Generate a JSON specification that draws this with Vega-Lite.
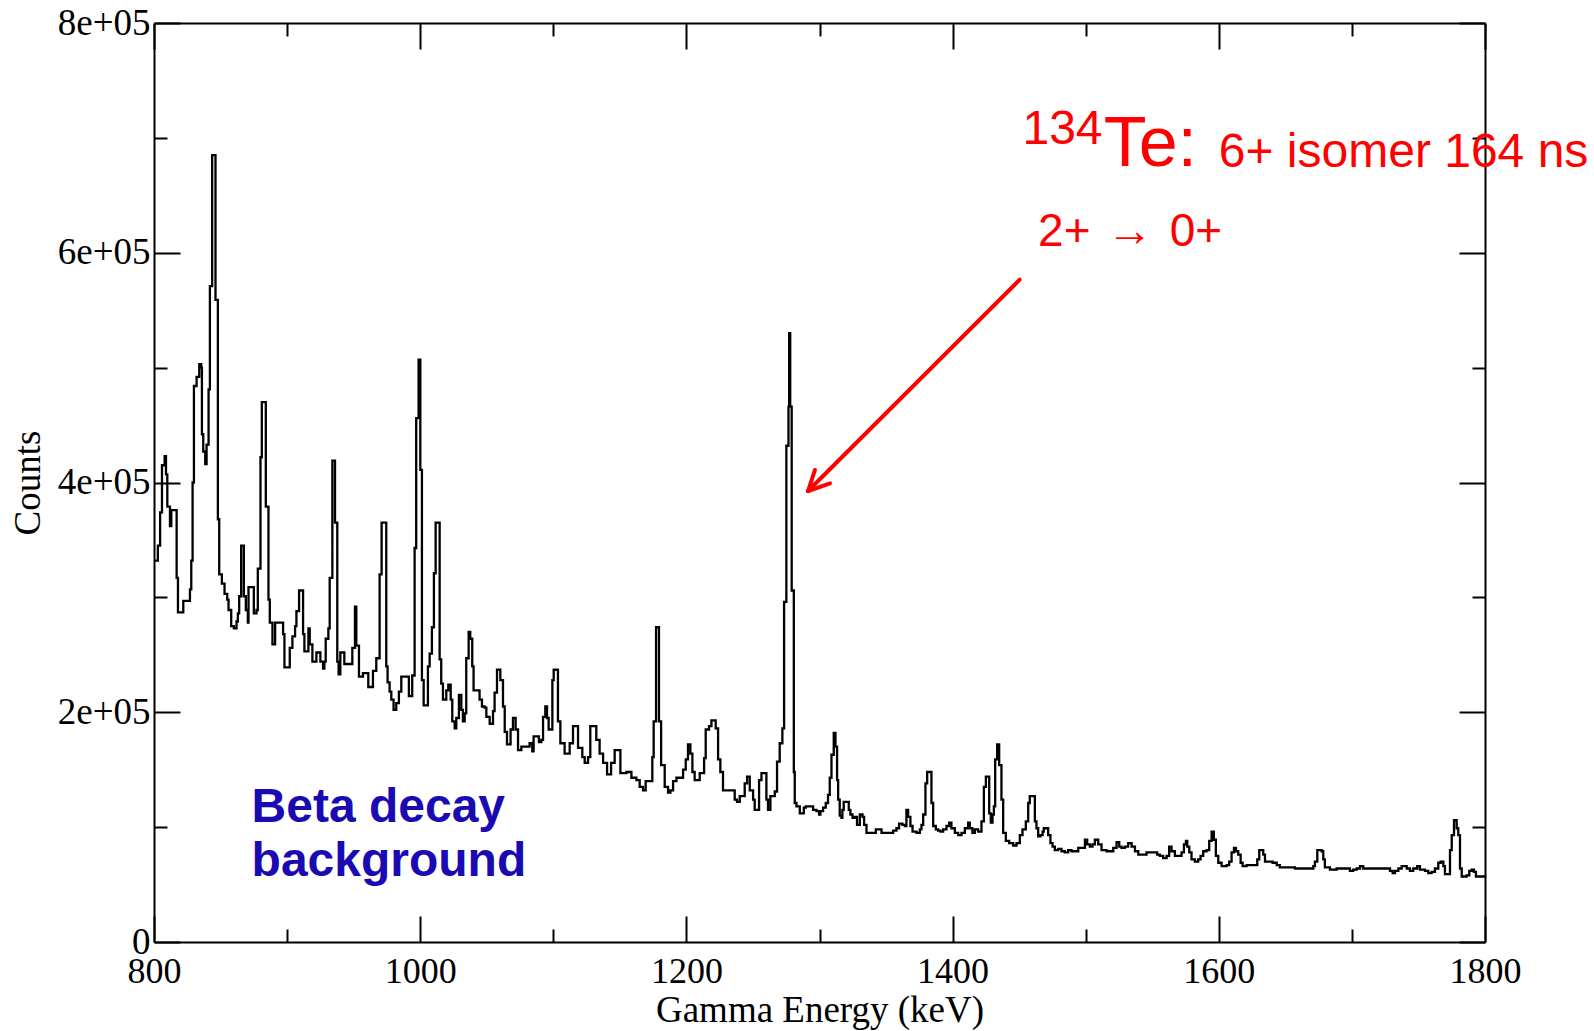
{
  "$schema": "https://vega.github.io/schema/vega-lite/v6.json",
  "width": 1331,
  "height": 919,
  "autosize": {"type": "none"},
  "padding": {"left": 154, "top": 23, "right": 109, "bottom": 89},
  "background": "white",
  "config": {"view": {"stroke": null}},
  "datasets": {
    "spectrum": [
      {"E":800,"C":332000},{"E":802.9,"C":345000},{"E":804.6,"C":374000},{"E":806,"C":415000},{"E":808,"C":423000},{"E":809,"C":407000},{"E":810,"C":379000},{"E":812,"C":362000},{"E":813,"C":376000},{"E":817,"C":317000},{"E":818,"C":287000},{"E":822,"C":297000},{"E":827,"C":307000},{"E":828,"C":332000},{"E":829,"C":400000},{"E":830,"C":484000},{"E":832,"C":492000},{"E":834,"C":503000},{"E":835.5,"C":500000},{"E":836,"C":442000},{"E":837,"C":427000},{"E":838.5,"C":416000},{"E":839.5,"C":433000},{"E":841,"C":481000},{"E":842,"C":571000},{"E":843.7,"C":685000},{"E":846.2,"C":559000},{"E":848,"C":368000},{"E":849,"C":320000},{"E":851,"C":312000},{"E":853,"C":303000},{"E":855,"C":298000},{"E":856,"C":289000},{"E":858,"C":275000},{"E":860,"C":273000},{"E":862,"C":279000},{"E":863,"C":286000},{"E":864,"C":301000},{"E":865.5,"C":345000},{"E":867.5,"C":301000},{"E":869,"C":289000},{"E":870.5,"C":278000},{"E":871,"C":309000},{"E":875,"C":286000},{"E":877,"C":289000},{"E":878,"C":325000},{"E":880,"C":422000},{"E":881,"C":470000},{"E":884,"C":379000},{"E":886,"C":298000},{"E":887,"C":278000},{"E":889,"C":259000},{"E":891,"C":278000},{"E":897,"C":268000},{"E":898,"C":239000},{"E":902,"C":256000},{"E":904,"C":266000},{"E":906,"C":275000},{"E":907,"C":288000},{"E":909,"C":306000},{"E":912,"C":268000},{"E":913,"C":253000},{"E":916,"C":273000},{"E":917,"C":259000},{"E":919,"C":244000},{"E":922,"C":252000},{"E":925,"C":244000},{"E":927,"C":238000},{"E":928,"C":244000},{"E":929,"C":264000},{"E":931,"C":273000},{"E":932,"C":317000},{"E":934,"C":419000},{"E":936,"C":365000},{"E":937.7,"C":244000},{"E":938.7,"C":233000},{"E":940,"C":252000},{"E":943,"C":242000},{"E":949,"C":256000},{"E":951,"C":292000},{"E":952,"C":258000},{"E":954,"C":231000},{"E":957,"C":234000},{"E":961,"C":222000},{"E":964.5,"C":236000},{"E":967,"C":247000},{"E":969.5,"C":320000},{"E":971,"C":365000},{"E":974.5,"C":240000},{"E":975.5,"C":226000},{"E":977,"C":218000},{"E":978.3,"C":211000},{"E":980,"C":202000},{"E":982,"C":208000},{"E":984,"C":218000},{"E":985.8,"C":231000},{"E":991.5,"C":214000},{"E":994,"C":232000},{"E":995.8,"C":343000},{"E":997,"C":456000},{"E":998.8,"C":507000},{"E":1000.1,"C":411000},{"E":1001.3,"C":228000},{"E":1002.6,"C":206000},{"E":1005.8,"C":240000},{"E":1007.1,"C":251000},{"E":1008.8,"C":274000},{"E":1010.3,"C":321000},{"E":1011.6,"C":365000},{"E":1014.6,"C":246000},{"E":1015.8,"C":225000},{"E":1017.1,"C":211000},{"E":1019.6,"C":219000},{"E":1021.1,"C":224000},{"E":1022.9,"C":211000},{"E":1024.1,"C":192000},{"E":1025.9,"C":186000},{"E":1027.1,"C":195000},{"E":1029.1,"C":215000},{"E":1030.9,"C":202000},{"E":1032.1,"C":192000},{"E":1033.4,"C":199000},{"E":1034.6,"C":247000},{"E":1036.4,"C":270000},{"E":1037.6,"C":264000},{"E":1039.1,"C":240000},{"E":1040.1,"C":219000},{"E":1044.6,"C":211000},{"E":1046.4,"C":205000},{"E":1048.4,"C":204000},{"E":1049.7,"C":196000},{"E":1052.2,"C":190000},{"E":1054.7,"C":201000},{"E":1055.9,"C":217000},{"E":1057.7,"C":237000},{"E":1060.2,"C":228000},{"E":1062.2,"C":205000},{"E":1063.5,"C":183000},{"E":1065.2,"C":172000},{"E":1067.9,"C":185000},{"E":1069.7,"C":195000},{"E":1071.7,"C":185000},{"E":1073.5,"C":167000},{"E":1076,"C":170000},{"E":1082.2,"C":173000},{"E":1084.2,"C":166000},{"E":1085.2,"C":179000},{"E":1089.2,"C":174000},{"E":1091,"C":176000},{"E":1092.3,"C":196000},{"E":1094,"C":205000},{"E":1095.3,"C":195000},{"E":1096.5,"C":185000},{"E":1099.3,"C":228000},{"E":1100.3,"C":237000},{"E":1103.5,"C":192000},{"E":1105.3,"C":173000},{"E":1108.5,"C":164000},{"E":1112.3,"C":173000},{"E":1114.8,"C":188000},{"E":1118.6,"C":169000},{"E":1121.8,"C":161000},{"E":1123.6,"C":156000},{"E":1126.1,"C":161000},{"E":1127.8,"C":188000},{"E":1132.3,"C":176000},{"E":1134.8,"C":164000},{"E":1137.4,"C":156000},{"E":1140.4,"C":146000},{"E":1143.4,"C":156000},{"E":1146.1,"C":167000},{"E":1150.4,"C":147000},{"E":1154.9,"C":148000},{"E":1158.7,"C":143000},{"E":1162.4,"C":141000},{"E":1164.9,"C":135000},{"E":1167.4,"C":132000},{"E":1169.4,"C":140000},{"E":1174.4,"C":161000},{"E":1175.4,"C":192000},{"E":1177.2,"C":274000},{"E":1179.4,"C":192000},{"E":1181,"C":154000},{"E":1183.7,"C":135000},{"E":1186.2,"C":130000},{"E":1188,"C":132000},{"E":1190,"C":140000},{"E":1192.5,"C":143000},{"E":1197.5,"C":150000},{"E":1199.5,"C":159000},{"E":1201.2,"C":172000},{"E":1203,"C":164000},{"E":1204.5,"C":148000},{"E":1206.2,"C":141000},{"E":1210,"C":147000},{"E":1213.3,"C":160000},{"E":1214.5,"C":185000},{"E":1217,"C":188000},{"E":1218.8,"C":193000},{"E":1222,"C":186000},{"E":1223.8,"C":159000},{"E":1225.5,"C":148000},{"E":1227.5,"C":132000},{"E":1236.3,"C":124000},{"E":1238,"C":122000},{"E":1240.1,"C":127000},{"E":1243.8,"C":138000},{"E":1245.6,"C":144000},{"E":1247.6,"C":132000},{"E":1250.1,"C":124000},{"E":1251.3,"C":115000},{"E":1254.6,"C":141000},{"E":1256.4,"C":147000},{"E":1260.1,"C":124000},{"E":1261.3,"C":115000},{"E":1263.1,"C":127000},{"E":1266.4,"C":131000},{"E":1268.1,"C":157000},{"E":1270.1,"C":173000},{"E":1272.1,"C":186000},{"E":1273.4,"C":296000},{"E":1275.1,"C":432000},{"E":1276.7,"C":466000},{"E":1277.2,"C":530000},{"E":1278,"C":466000},{"E":1279.1,"C":306000},{"E":1280.7,"C":148000},{"E":1281.4,"C":121000},{"E":1282.7,"C":118000},{"E":1285.2,"C":112000},{"E":1288.2,"C":117000},{"E":1289.7,"C":118000},{"E":1295.2,"C":115000},{"E":1297.7,"C":114000},{"E":1299.7,"C":111000},{"E":1300.7,"C":114000},{"E":1302.7,"C":117000},{"E":1304.7,"C":121000},{"E":1306.4,"C":128000},{"E":1307.7,"C":143000},{"E":1309,"C":163000},{"E":1310.7,"C":182000},{"E":1312,"C":170000},{"E":1313.2,"C":141000},{"E":1314,"C":124000},{"E":1315.2,"C":110000},{"E":1316.5,"C":108000},{"E":1317.2,"C":115000},{"E":1318.2,"C":122000},{"E":1322,"C":115000},{"E":1323.2,"C":111000},{"E":1324.8,"C":108000},{"E":1326.5,"C":109000},{"E":1328.2,"C":102000},{"E":1330.3,"C":111000},{"E":1332.3,"C":109000},{"E":1333.5,"C":102000},{"E":1335.3,"C":95000},{"E":1342.3,"C":98000},{"E":1346.6,"C":95000},{"E":1355.3,"C":97000},{"E":1357.8,"C":99000},{"E":1359.8,"C":103000},{"E":1362.3,"C":102000},{"E":1364.1,"C":101000},{"E":1365.3,"C":115000},{"E":1366.6,"C":109000},{"E":1368.3,"C":101000},{"E":1369.9,"C":96000},{"E":1372.9,"C":95000},{"E":1375.4,"C":98000},{"E":1376.6,"C":102000},{"E":1377.9,"C":111000},{"E":1379.6,"C":138000},{"E":1380.9,"C":148000},{"E":1384.1,"C":121000},{"E":1385.4,"C":101000},{"E":1387.4,"C":98000},{"E":1389.1,"C":97000},{"E":1390.9,"C":96000},{"E":1392.9,"C":98000},{"E":1395.4,"C":101000},{"E":1397.4,"C":104000},{"E":1399.1,"C":99000},{"E":1401.7,"C":95000},{"E":1404.2,"C":93000},{"E":1406.7,"C":95000},{"E":1409.2,"C":99000},{"E":1411.7,"C":104000},{"E":1412.9,"C":99000},{"E":1414.9,"C":95000},{"E":1416.7,"C":98000},{"E":1419.2,"C":96000},{"E":1421.7,"C":105000},{"E":1423.5,"C":135000},{"E":1425,"C":144000},{"E":1427.5,"C":112000},{"E":1428.7,"C":104000},{"E":1430,"C":111000},{"E":1431,"C":118000},{"E":1432,"C":159000},{"E":1433.5,"C":172000},{"E":1435,"C":154000},{"E":1436.7,"C":124000},{"E":1438,"C":95000},{"E":1440,"C":88000},{"E":1442.5,"C":86000},{"E":1445.5,"C":84000},{"E":1448,"C":86000},{"E":1450.5,"C":93000},{"E":1452.5,"C":98000},{"E":1455,"C":105000},{"E":1456.8,"C":121000},{"E":1458,"C":127000},{"E":1461.8,"C":105000},{"E":1463,"C":99000},{"E":1464.3,"C":92000},{"E":1466,"C":93000},{"E":1467.6,"C":96000},{"E":1468.5,"C":99000},{"E":1471.8,"C":93000},{"E":1473.5,"C":86000},{"E":1475.1,"C":83000},{"E":1476.8,"C":80000},{"E":1479.3,"C":81000},{"E":1481.8,"C":79000},{"E":1484.3,"C":78000},{"E":1486.8,"C":80000},{"E":1489.3,"C":79000},{"E":1494.4,"C":82000},{"E":1499.4,"C":89000},{"E":1501.1,"C":85000},{"E":1503.1,"C":83000},{"E":1505.1,"C":85000},{"E":1506.9,"C":89000},{"E":1509.4,"C":85000},{"E":1511.9,"C":80000},{"E":1515.7,"C":79000},{"E":1520.7,"C":82000},{"E":1523.2,"C":87000},{"E":1525.2,"C":83000},{"E":1526.9,"C":82000},{"E":1529.4,"C":83000},{"E":1531.9,"C":86000},{"E":1534.5,"C":83000},{"E":1537,"C":79000},{"E":1539.5,"C":76000},{"E":1545.7,"C":78000},{"E":1553.7,"C":76000},{"E":1555.7,"C":75000},{"E":1558.2,"C":73000},{"E":1560.8,"C":75000},{"E":1562.7,"C":83000},{"E":1564.5,"C":79000},{"E":1567,"C":75000},{"E":1572,"C":78000},{"E":1573.8,"C":85000},{"E":1575.3,"C":88000},{"E":1576.3,"C":83000},{"E":1577.8,"C":78000},{"E":1579.5,"C":72000},{"E":1582,"C":70000},{"E":1584.5,"C":72000},{"E":1586.3,"C":75000},{"E":1588.3,"C":79000},{"E":1590.8,"C":80000},{"E":1592.8,"C":88000},{"E":1594.6,"C":96000},{"E":1596.3,"C":89000},{"E":1597.8,"C":75000},{"E":1599.6,"C":69000},{"E":1602.1,"C":66000},{"E":1605.9,"C":67000},{"E":1607.8,"C":70000},{"E":1609.6,"C":78000},{"E":1611.4,"C":82000},{"E":1612.9,"C":79000},{"E":1614.6,"C":76000},{"E":1616.4,"C":69000},{"E":1617.9,"C":66000},{"E":1620.9,"C":67000},{"E":1628.9,"C":72000},{"E":1630.4,"C":80000},{"E":1633.4,"C":76000},{"E":1634.7,"C":70000},{"E":1640.4,"C":69000},{"E":1643.5,"C":67000},{"E":1645.9,"C":65000},{"E":1657.2,"C":64000},{"E":1671,"C":66000},{"E":1672.2,"C":70000},{"E":1674,"C":80000},{"E":1677.3,"C":79000},{"E":1678.5,"C":72000},{"E":1679.7,"C":65000},{"E":1683.5,"C":63000},{"E":1688.5,"C":64000},{"E":1698.5,"C":62000},{"E":1701,"C":63000},{"E":1703.6,"C":64000},{"E":1706.1,"C":66000},{"E":1708.5,"C":64000},{"E":1728.6,"C":62000},{"E":1730.6,"C":60000},{"E":1732.4,"C":62000},{"E":1734.9,"C":64000},{"E":1737.4,"C":66000},{"E":1741.2,"C":64000},{"E":1743.6,"C":62000},{"E":1746.1,"C":64000},{"E":1749.1,"C":66000},{"E":1751.1,"C":63000},{"E":1754.9,"C":62000},{"E":1757.4,"C":60000},{"E":1759.9,"C":61000},{"E":1762.4,"C":64000},{"E":1764.9,"C":69000},{"E":1766.7,"C":70000},{"E":1768.7,"C":66000},{"E":1769.9,"C":59000},{"E":1772.4,"C":59000},{"E":1773.7,"C":80000},{"E":1775,"C":93000},{"E":1776.7,"C":106000},{"E":1778.7,"C":99000},{"E":1779.9,"C":93000},{"E":1781.2,"C":64000},{"E":1782.5,"C":57000},{"E":1786.2,"C":58000},{"E":1788.2,"C":62000},{"E":1790,"C":63000},{"E":1791.7,"C":61000},{"E":1793.2,"C":57000},{"E":1800,"C":56000}
    ],
    "arrow": [
      {"seg":"shaft","E":1450.4,"C":576600},{"seg":"shaft","E":1291.4,"C":392600},
      {"seg":"head1","E":1296.6,"C":410900},{"seg":"head1","E":1291.4,"C":392600},
      {"seg":"head2","E":1307.9,"C":399300},{"seg":"head2","E":1291.4,"C":392600}
    ],
    "one": [{}]
  },
  "layer": [
    {
      "data": {"name": "spectrum"},
      "mark": {"type": "line", "interpolate": "step-after", "color": "black", "strokeWidth": 2.3},
      "encoding": {
        "x": {"field": "E", "type": "quantitative",
          "scale": {"domain": [800, 1800], "nice": false, "zero": false},
          "axis": {"orient": "bottom", "values": [800, 1000, 1200, 1400, 1600, 1800], "format": "d", "ticks": false, "grid": false,
            "domain": true, "domainColor": "black", "domainWidth": 2,
            "labelFont": "Liberation Serif", "labelFontSize": 36, "labelColor": "black", "labelPadding": 12,
            "labelFlush": false, "labelOverlap": false, "labelBaseline": "top",
            "title": "Gamma Energy (keV)", "titleFont": "Liberation Serif", "titleFontSize": 37,
            "titleFontWeight": "normal", "titleColor": "black", "titleBaseline": "alphabetic", "titleY": 79}},
        "y": {"field": "C", "type": "quantitative",
          "scale": {"domain": [0, 800000], "nice": false},
          "axis": {"orient": "left", "values": [0, 200000, 400000, 600000, 800000],
            "labelExpr": "datum.value === 0 ? '0' : (datum.value / 100000) + 'e+05'",
            "ticks": false, "grid": false, "domain": true, "domainColor": "black", "domainWidth": 2,
            "labelFont": "Liberation Serif", "labelFontSize": 37, "labelColor": "black", "labelPadding": 4,
            "labelFlush": false, "labelOverlap": false,
            "title": "Counts", "titleFont": "Liberation Serif", "titleFontSize": 37, "titleFontWeight": "normal",
            "titleColor": "black", "titleBaseline": "middle", "titleX": -126}}
      }
    },
    {
      "data": {"name": "arrow"},
      "mark": {"type": "line", "color": "#ff0000", "strokeWidth": 4, "strokeCap": "round"},
      "encoding": {
        "x": {"field": "E", "type": "quantitative",
          "scale": {"domain": [800, 1800], "nice": false, "zero": false},
          "axis": {"orient": "bottom", "values": [800, 900, 1000, 1100, 1200, 1300, 1400, 1500, 1600, 1700, 1800],
            "labels": false, "domain": false, "grid": false, "ticks": true, "tickColor": "black", "tickWidth": 2,
            "tickSize": {"condition": {"test": "datum.value % 200 === 0", "value": -26}, "value": -13}, "title": null}},
        "y": {"field": "C", "type": "quantitative",
          "scale": {"domain": [0, 800000], "nice": false},
          "axis": {"orient": "left", "values": [0, 100000, 200000, 300000, 400000, 500000, 600000, 700000, 800000],
            "labels": false, "domain": false, "grid": false, "ticks": true, "tickColor": "black", "tickWidth": 2,
            "tickSize": {"condition": {"test": "datum.value % 200000 === 0", "value": -26}, "value": -13}, "title": null}},
        "detail": {"field": "seg"}
      }
    },
    {
      "data": {"name": "one"},
      "mark": {"type": "text", "text": "6+ isomer 164 ns", "font": "Liberation Sans", "fontSize": 48, "color": "#ff0000", "align": "left", "baseline": "alphabetic"},
      "encoding": {
        "x": {"datum": 1600, "type": "quantitative",
          "scale": {"domain": [800, 1800], "nice": false, "zero": false},
          "axis": {"orient": "top", "values": [800, 900, 1000, 1100, 1200, 1300, 1400, 1500, 1600, 1700, 1800],
            "labels": false, "domain": true, "domainColor": "black", "domainWidth": 2, "grid": false, "ticks": true, "tickColor": "black", "tickWidth": 2,
            "tickSize": {"condition": {"test": "datum.value % 200 === 0", "value": -26}, "value": -13}, "title": null}},
        "y": {"datum": 675000, "type": "quantitative",
          "scale": {"domain": [0, 800000], "nice": false},
          "axis": {"orient": "right", "values": [0, 100000, 200000, 300000, 400000, 500000, 600000, 700000, 800000],
            "labels": false, "domain": true, "domainColor": "black", "domainWidth": 2, "grid": false, "ticks": true, "tickColor": "black", "tickWidth": 2,
            "tickSize": {"condition": {"test": "datum.value % 200000 === 0", "value": -26}, "value": -13}, "title": null}}
      }
    },
    {
      "data": {"name": "one"},
      "mark": {"type": "text", "text": "134", "font": "Liberation Sans", "fontSize": 48, "color": "#ff0000", "align": "left", "baseline": "alphabetic"},
      "encoding": {
        "x": {"datum": 1452.5, "type": "quantitative", "axis": null},
        "y": {"datum": 694700, "type": "quantitative", "axis": null}
      }
    },
    {
      "data": {"name": "one"},
      "mark": {"type": "text", "text": "Te:", "font": "Liberation Sans", "fontSize": 70, "color": "#ff0000", "align": "left", "baseline": "alphabetic"},
      "encoding": {
        "x": {"datum": 1513.5, "type": "quantitative", "axis": null},
        "y": {"datum": 675500, "type": "quantitative", "axis": null}
      }
    },
    {
      "data": {"name": "one"},
      "mark": {"type": "text", "text": "2+ \u200a→\u200a 0+", "font": "Liberation Sans", "fontSize": 46, "color": "#ff0000", "align": "left", "baseline": "alphabetic"},
      "encoding": {
        "x": {"datum": 1464.2, "type": "quantitative", "axis": null},
        "y": {"datum": 605900, "type": "quantitative", "axis": null}
      }
    },
    {
      "data": {"name": "one"},
      "mark": {"type": "text", "text": ["Beta decay", "background"], "lineHeight": 54.3, "font": "Liberation Sans", "fontWeight": "bold", "fontSize": 48, "color": "#1a0ab4", "align": "left", "baseline": "alphabetic"},
      "encoding": {
        "x": {"datum": 873.3, "type": "quantitative", "axis": null},
        "y": {"datum": 104700, "type": "quantitative", "axis": null}
      }
    }
  ],
  "resolve": {"axis": {"x": "independent", "y": "independent"}}
}
